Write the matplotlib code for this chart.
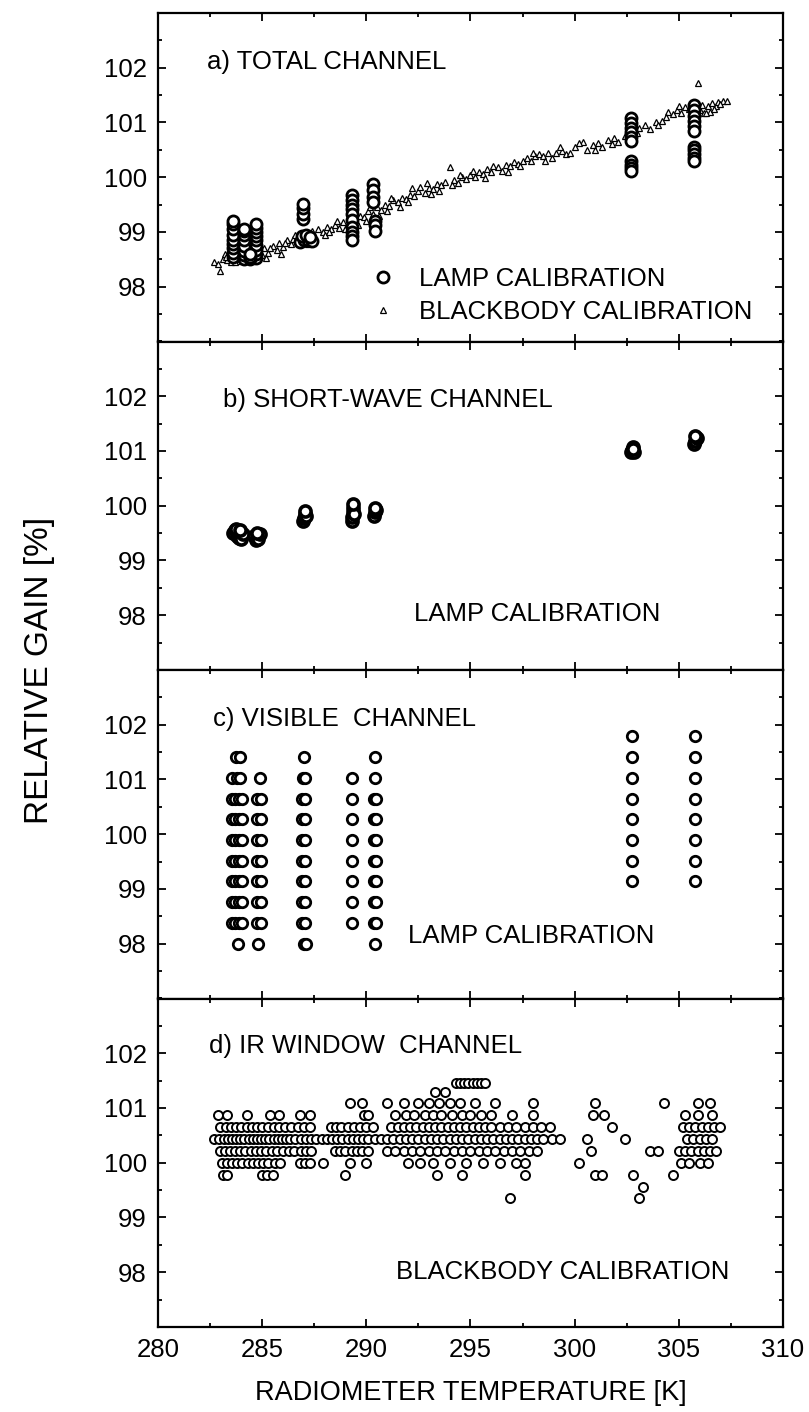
import matplotlib
matplotlib.use("Agg")
import matplotlib.pyplot as plt
from matplotlib.ticker import MultipleLocator

plt.rcParams["font.family"] = ["Liberation Sans", "DejaVu Sans"]

FS = 18.5

# ---- a) total channel: lamp calibration (circles)
lamp_a_temp = (
    [283.6] * 9 + [284.15] * 8 + [284.7] * 9 + [284.4] * 3
    + [286.95] * 4 + [286.8, 287.0, 287.2, 287.4, 286.9, 287.1, 287.3]
    + [289.3] * 10 + [290.3] * 4 + [290.4] * 3
    + [302.7] * 6 + [302.7] * 4
    + [305.75] * 6 + [305.75] * 5
)
lamp_a_gain = (
    [98.55, 98.62, 98.7, 98.78, 98.85, 98.95, 99.05, 99.15, 99.2]
    + [98.5, 98.58, 98.66, 98.75, 98.85, 98.95, 99.02, 99.05]
    + [98.52, 98.6, 98.68, 98.76, 98.85, 98.93, 99.0, 99.08, 99.14]
    + [98.5, 98.55, 98.6]
    + [99.23, 99.33, 99.43, 99.52]
    + [98.82, 98.85, 98.86, 98.84, 98.92, 98.95, 98.9]
    + [99.67, 99.58, 99.5, 99.42, 99.33, 99.22, 99.1, 99.0, 98.92, 98.85]
    + [99.88, 99.76, 99.64, 99.55]
    + [99.2, 99.12, 99.02]
    + [101.08, 100.99, 100.9, 100.82, 100.74, 100.66]
    + [100.29, 100.23, 100.17, 100.11]
    + [101.32, 101.22, 101.12, 101.02, 100.93, 100.84]
    + [100.55, 100.49, 100.43, 100.36, 100.3]
)

# ---- a) total channel: blackbody calibration (triangles)
bb_a_temp = [
    282.7, 282.9, 283.0, 283.1, 283.3, 283.4, 283.6, 283.8, 283.9, 284.1,
    284.3, 284.4, 284.6, 284.8, 285.0, 285.1, 285.3, 285.5, 285.7, 285.8,
    286.0, 286.2, 286.4, 286.5, 286.7, 286.9, 287.1, 287.3, 287.5, 287.7,
    287.9, 288.1, 288.3, 288.5, 288.7, 288.9, 289.1, 289.3, 289.5, 289.7,
    289.9, 290.1, 290.3, 290.5, 290.7, 290.9, 291.1, 291.3, 291.5, 291.7,
    291.9, 292.1, 292.3, 292.5, 292.6, 292.8, 293.0, 293.2, 293.4, 293.6,
    293.8, 294.0, 294.2, 294.4, 294.6, 294.8, 295.0, 295.2, 295.4, 295.6,
    295.8, 296.0, 296.3, 296.5, 296.7, 296.9, 297.1, 297.3, 297.5, 297.7,
    297.9, 298.1, 298.3, 298.5, 298.7, 298.9, 299.1, 299.4, 299.6, 300.0,
    300.4, 300.6, 300.9, 301.1, 301.3, 301.6, 301.9, 302.1, 302.4, 302.6,
    302.9, 303.1, 303.4, 303.6, 303.9, 304.2, 304.5, 304.7, 304.9, 305.1,
    305.3, 305.5, 305.7, 305.9, 306.0, 306.1, 306.2, 306.4, 306.5, 306.6,
    306.8, 306.9, 307.1, 307.3,
    283.2, 283.5, 284.0, 284.5, 285.2, 285.9, 286.6, 287.2, 288.0, 289.0,
    290.0, 291.0, 292.0, 293.1,
    283.25, 283.7, 284.2, 284.7, 285.4, 286.1, 286.8, 287.4, 288.2, 288.6,
    289.2, 289.6, 290.2, 290.6, 291.2, 291.6, 292.2, 292.9, 293.5, 294.1,
    294.5, 295.1, 295.7, 296.1, 296.8, 297.4, 298.0, 298.6, 299.3, 299.8,
    300.2, 301.0, 301.8, 303.0, 304.0, 304.4, 305.0, 305.6, 306.3, 306.7,
    307.0,
]
bb_a_gain = [
    98.45, 98.42, 98.28, 98.5, 98.48, 98.55, 98.5, 98.57, 98.47, 98.6,
    98.52, 98.62, 98.55, 98.65, 98.58, 98.7, 98.62, 98.75, 98.68, 98.8,
    98.72, 98.85, 98.78, 98.88, 98.82, 98.9, 98.85, 98.95, 98.88, 99.05,
    99.0, 99.1, 99.05, 99.12, 99.08, 99.18, 99.15, 99.25, 99.2, 99.3,
    99.27, 99.38, 99.33, 99.45, 99.4, 99.5, 99.47, 99.58, 99.55, 99.62,
    99.6, 99.68, 99.65, 99.75, 99.83, 99.72, 99.8, 99.78, 99.88, 99.85,
    99.92, 100.18, 99.95, 99.9, 100.0, 99.97, 100.05, 100.0, 100.1, 100.06,
    100.15, 100.1, 100.18, 100.12, 100.22, 100.2, 100.28, 100.25, 100.3, 100.35,
    100.3, 100.38, 100.42, 100.38, 100.45, 100.35, 100.45, 100.48, 100.42, 100.55,
    100.64, 100.5, 100.58, 100.62, 100.55, 100.68, 100.72, 100.65, 100.75, 100.8,
    100.85, 100.9, 100.95, 100.88, 101.0, 101.03, 101.2, 101.15, 101.22, 101.18,
    101.28, 101.25, 101.3, 101.73, 101.22, 101.32, 101.17, 101.3, 101.2, 101.35,
    101.3, 101.38, 101.4, 101.39,
    98.6, 98.45, 98.5, 98.68, 98.52, 98.6, 98.95, 98.78, 98.95, 99.05,
    99.2, 99.38, 99.55, 99.7,
    98.55, 98.45, 98.5, 98.6, 98.7, 98.8, 98.92, 99.02, 99.0, 99.2,
    99.3, 99.12, 99.45, 99.3, 99.62, 99.45, 99.8, 99.9, 99.75, 99.85,
    100.05, 100.12, 99.98, 100.2, 100.1, 100.2, 100.45, 100.3, 100.55, 100.45,
    100.62, 100.5, 100.6, 100.8, 100.95, 101.1, 101.3, 101.2, 101.18, 101.25,
    101.33,
]

# ---- b) short-wave channel: lamp calibration
lamp_b_temp = [
    283.6, 283.7, 283.8, 283.9, 284.0, 284.1, 283.75, 283.95,
    284.6, 284.7, 284.8, 284.9, 284.75,
    286.95, 287.0, 287.05, 287.1, 287.05,
    289.3, 289.3, 289.35, 289.35, 289.4, 289.35,
    290.35, 290.4, 290.45, 290.4,
    302.7, 302.75, 302.8, 302.85, 302.8,
    305.75, 305.8, 305.85, 305.8,
]
lamp_b_gain = [
    99.5, 99.55, 99.45, 99.42, 99.4, 99.48, 99.58, 99.55,
    99.45, 99.38, 99.4, 99.48, 99.5,
    99.72, 99.78, 99.85, 99.82, 99.9,
    99.72, 99.8, 99.88, 99.95, 99.85, 100.03,
    99.82, 99.88, 99.92, 99.95,
    100.98, 101.02, 101.08, 100.98, 101.03,
    101.12, 101.18, 101.24, 101.28,
]

# ---- c) visible channel: lamp calibration on quantised gain levels
vis_levels = [98.0, 98.38, 98.76, 99.14, 99.52, 99.9, 100.28, 100.65,
              101.03, 101.41, 101.79]
vis_cols_low = [283.86, 284.82, 287.0, 287.1, 290.42]
vis_cols_mid = [283.55, 283.7, 283.9, 284.05, 284.75, 284.95,
                286.9, 287.05, 289.3, 290.35, 290.45]
vis_cols_1103 = [283.55, 283.8, 283.95, 284.9, 286.95, 287.05, 289.3, 290.4]
vis_cols_1141 = [283.75, 283.95, 287.0, 290.4]
vis_cols_warm = [302.75, 305.8]

vis_temp, vis_gain = [], []
for lev in vis_levels:
    if lev == 98.0:
        cols = vis_cols_low
    elif lev == 101.03:
        cols = vis_cols_1103
    elif lev == 101.41:
        cols = vis_cols_1141
    elif lev == 101.79:
        cols = []
    else:
        cols = vis_cols_mid
    for t in cols:
        vis_temp.append(t)
        vis_gain.append(lev)
    if lev >= 99.14:
        for t in vis_cols_warm:
            vis_temp.append(t)
            vis_gain.append(lev)

# ---- d) IR window channel: blackbody calibration
ir_rows = {
    99.35: [296.9, 303.1],
    99.55: [303.3],
    99.78: [283.1, 283.3, 285.0, 285.25, 285.5, 289.0, 293.4, 294.6, 297.6,
            301.0, 301.3, 302.8, 304.7],
    100.0: [283.05, 283.3, 283.55, 283.8, 284.05, 284.3, 284.55, 284.8, 285.05,
            285.3, 285.6, 285.85, 286.8, 287.05, 287.3, 287.9, 289.2, 290.0,
            292.0, 292.6, 293.2, 294.0, 294.8, 295.6, 296.4, 297.2, 297.6,
            300.2, 305.1, 305.5, 306.0, 306.4],
    100.22: [283.0, 283.2, 283.45, 283.7, 283.95, 284.2, 284.45, 284.7, 284.95,
             285.2, 285.45, 285.7, 286.0, 286.3, 286.55, 286.85, 287.1, 287.35,
             288.5, 288.75, 289.0, 289.3, 289.55, 289.8, 290.1, 291.0, 291.4,
             291.8, 292.2, 292.6, 293.0, 293.4, 293.8, 294.2, 294.6, 295.0,
             295.4, 295.8, 296.2, 296.6, 297.0, 297.4, 297.8, 298.2, 300.8,
             303.6, 304.0, 305.0, 305.3, 305.6, 305.9, 306.2, 306.5, 306.8],
    100.44: [282.7, 282.95, 283.15, 283.35, 283.55, 283.75, 283.95, 284.15,
             284.35, 284.55, 284.75, 284.95, 285.15, 285.35, 285.55, 285.75,
             285.95, 286.15, 286.35, 286.6, 286.85, 287.1, 287.35, 287.6,
             287.85, 288.1, 288.35, 288.6, 288.85, 289.1, 289.35, 289.6,
             289.85, 290.1, 290.4, 290.7, 291.0, 291.3, 291.6, 291.9, 292.2,
             292.5, 292.8, 293.1, 293.4, 293.7, 294.0, 294.3, 294.6, 294.9,
             295.2, 295.5, 295.8, 296.1, 296.4, 296.7, 297.0, 297.3, 297.6,
             297.9, 298.2, 298.5, 298.9, 299.3, 300.6, 302.4, 305.4, 305.7,
             306.0, 306.3, 306.6],
    100.66: [283.0, 283.25, 283.5, 283.75, 284.0, 284.25, 284.5, 284.75, 285.0,
             285.3, 285.55, 285.8, 286.1, 286.4, 286.7, 287.0, 287.3, 288.3,
             288.55, 288.8, 289.1, 289.4, 289.7, 290.0, 290.3, 291.2, 291.5,
             291.8, 292.1, 292.4, 292.7, 293.0, 293.3, 293.6, 293.9, 294.2,
             294.5, 294.8, 295.1, 295.4, 295.7, 296.0, 296.4, 296.8, 297.2,
             297.6, 298.0, 298.4, 298.8, 301.8, 305.2, 305.5, 305.8, 306.1,
             306.4, 306.7, 307.0],
    100.88: [282.9, 283.3, 284.25, 285.4, 285.8, 286.8, 287.3, 289.9, 290.1,
             291.4, 291.9, 292.3, 292.8, 293.2, 293.6, 294.1, 294.6, 295.0,
             295.5, 296.0, 297.0, 298.0, 300.9, 301.4, 305.3, 305.9, 306.6],
    101.1: [289.2, 289.8, 291.0, 291.8, 292.5, 293.0, 293.5, 294.0, 294.5,
            295.2, 296.2, 298.0, 301.0, 304.3, 305.9, 306.5],
    101.3: [293.3, 293.8],
    101.45: [294.3, 294.5, 294.7, 294.9, 295.1, 295.3, 295.5, 295.7],
}
ir_temp = [t for g, ts in ir_rows.items() for t in ts]
ir_gain = [g for g, ts in ir_rows.items() for t in ts]

fig, axes = plt.subplots(4, 1, sharex=True, figsize=(8.09, 14.12), dpi=100)
fig.subplots_adjust(left=158 / 809, right=783 / 809, top=1 - 13 / 1412,
                    bottom=1 - 1327 / 1412, hspace=0)

circ = dict(ls="none", marker="o", mfc="white", mec="black")

ax = axes[0]
bb, = ax.plot(bb_a_temp, bb_a_gain, ls="none", marker="^", ms=4.5,
              mfc="white", mec="black", mew=0.9, label="BLACKBODY CALIBRATION")
lamp, = ax.plot(lamp_a_temp, lamp_a_gain, ms=8, mew=2.0, label="LAMP CALIBRATION",
                **circ)
ax.legend(handles=[lamp, bb], loc="lower left", bbox_to_anchor=(0.315, 0.0),
          frameon=False, fontsize=FS, handlelength=0.8, handletextpad=1.0,
          labelspacing=0.35, borderaxespad=0.3, numpoints=1)
ax.text(0.078, 0.85, "a) TOTAL CHANNEL", transform=ax.transAxes,
        fontsize=FS, va="center", ha="left")

ax = axes[1]
ax.plot(lamp_b_temp, lamp_b_gain, ms=8, mew=2.6, **circ)
ax.text(0.1035, 0.822, "b) SHORT-WAVE CHANNEL", transform=ax.transAxes,
        fontsize=FS, va="center", ha="left")
ax.text(0.41, 0.17, "LAMP CALIBRATION", transform=ax.transAxes,
        fontsize=FS, va="center", ha="left")

ax = axes[2]
ax.plot(vis_temp, vis_gain, ms=7.5, mew=2.0, **circ)
ax.text(0.088, 0.852, "c) VISIBLE  CHANNEL", transform=ax.transAxes,
        fontsize=FS, va="center", ha="left")
ax.text(0.40, 0.19, "LAMP CALIBRATION", transform=ax.transAxes,
        fontsize=FS, va="center", ha="left")

ax = axes[3]
ax.plot(ir_temp, ir_gain, ms=6.5, mew=1.4, **circ)
ax.text(0.082, 0.855, "d) IR WINDOW  CHANNEL", transform=ax.transAxes,
        fontsize=FS, va="center", ha="left")
ax.text(0.38, 0.167, "BLACKBODY CALIBRATION", transform=ax.transAxes,
        fontsize=FS, va="center", ha="left")

for ax in axes:
    ax.set_xlim(280, 310)
    ax.set_ylim(97, 103)
    ax.xaxis.set_major_locator(MultipleLocator(5))
    ax.xaxis.set_minor_locator(MultipleLocator(2.5))
    ax.yaxis.set_major_locator(MultipleLocator(1))
    ax.yaxis.set_minor_locator(MultipleLocator(0.5))
    ax.set_yticks([98, 99, 100, 101, 102])
    ax.tick_params(which="both", direction="in", top=True, right=True,
                   width=1.3, labelsize=FS, pad=8)
    ax.tick_params(which="major", length=6)
    ax.tick_params(which="minor", length=3)
    for s in ax.spines.values():
        s.set_linewidth(1.6)

axes[-1].set_xlabel("RADIOMETER TEMPERATURE [K]", fontsize=19.5, labelpad=13)
fig.text(40 / 809, 1 - 670 / 1412, "RELATIVE GAIN [%]", rotation=90,
         fontsize=24, ha="center", va="center")

fig.savefig("out.png", dpi=100)
